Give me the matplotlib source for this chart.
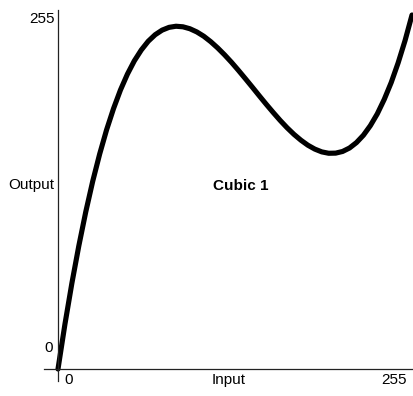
import matplotlib
matplotlib.use("Agg")
import matplotlib.pyplot as plt
from matplotlib.lines import Line2D

plt.rcParams['font.family'] = ['Liberation Sans', 'DejaVu Sans']

# curve (input -> output), every 5 input steps
inputs = [0, 5, 10, 15, 20, 25, 30, 35, 40, 45, 50, 55, 60, 65, 70, 75, 80,
          85, 90, 95, 100, 105, 110, 115, 120, 125, 130, 135, 140, 145, 150,
          155, 160, 165, 170, 175, 180, 185, 190, 195, 200, 205, 210, 215,
          220, 225, 230, 235, 240, 245, 250, 255]
outputs = [0, 32.3, 61.8, 88.7, 113.2, 135.2, 154.8, 172.3, 187.6, 201.0,
           212.4, 222.0, 229.8, 236.1, 240.8, 244.1, 246.1, 246.9, 246.5,
           245.1, 242.8, 239.7, 235.8, 231.3, 226.3, 220.9, 215.1, 209.1,
           203.0, 196.8, 190.7, 184.8, 179.1, 173.8, 169.0, 164.8, 161.2,
           158.4, 156.4, 155.4, 155.5, 156.7, 159.2, 163.1, 168.4, 175.3,
           183.8, 194.2, 206.3, 220.5, 236.6, 255]

x_ticks = ["0", "255"]
y_ticks = ["0", "255"]
title = "Cubic 1"

W, H = 414, 396


def px(x, y):
    # pixel position -> figure fraction
    return x / W, 1 - y / H


fig = plt.figure(figsize=(W / 100, H / 100), dpi=100)
fig.patch.set_facecolor("white")

# axis lines
fig.add_artist(Line2D([px(58, 0)[0]] * 2, [px(0, 10)[1], px(0, 381)[1]],
                      color="#222222", lw=0.9))
fig.add_artist(Line2D([px(44, 0)[0], px(414, 0)[0]], [px(0, 369)[1]] * 2,
                      color="#222222", lw=0.9))

ax = fig.add_axes([58 / W, (H - 369) / H, 354 / W, 354 / H])
ax.set_xlim(0, 255)
ax.set_ylim(0, 255)
ax.axis("off")
ax.plot(inputs, outputs, color="black", lw=3.7, clip_on=False,
        solid_capstyle="round", solid_joinstyle="round")

fs = 11
fig.text(*px(55, 19), y_ticks[1], ha="right", va="center", fontsize=fs)
fig.text(*px(53, 348), y_ticks[0], ha="right", va="center", fontsize=fs)
fig.text(*px(64, 380), x_ticks[0], ha="left", va="center", fontsize=fs)
fig.text(*px(407, 380), x_ticks[1], ha="right", va="center", fontsize=fs)
fig.text(*px(229, 380), "Input", ha="center", va="center", fontsize=fs)
fig.text(*px(54, 185), "Output", ha="right", va="center", fontsize=fs)
fig.text(*px(213, 186), title, ha="left", va="center", fontsize=fs,
         fontweight="bold")

fig.savefig("out.png", dpi=100)
